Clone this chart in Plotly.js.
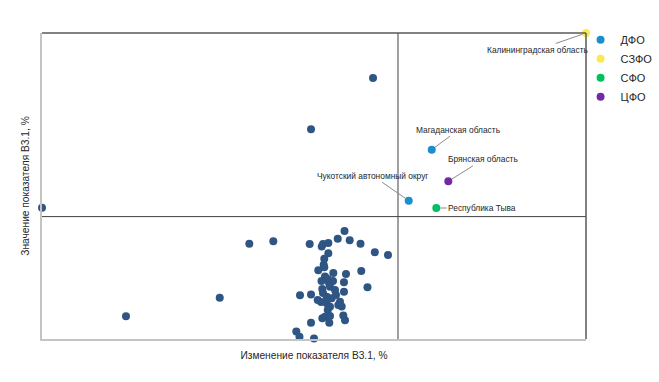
<!DOCTYPE html>
<html>
<head>
<meta charset="utf-8">
<script src="https://cdn.plot.ly/plotly-3.0.1.min.js"></script>
<style>html,body{margin:0;padding:0;background:#fff;}#chart{width:659px;height:382px;}</style>
</head>
<body>
<div id="chart"></div>
<script>
// Other regions (no district highlight)
const otherX = [49.45, 0.0, 60.85, 38.11, 42.52, 32.67, 15.44, 47.43, 49.45, 49.45,
  46.75, 47.33, 50.0, 49.21, 51.42, 51.65, 52.63, 54.36, 55.61, 56.56,
  58.55, 61.18, 63.60, 52.63, 51.89, 51.78, 51.89, 50.79, 53.55, 55.88,
  58.69, 52.02, 52.52, 51.38, 55.51, 59.83, 51.53, 52.94, 53.86, 55.51,
  50.68, 51.29, 52.33, 53.25, 52.33, 52.94, 54.47, 55.09, 54.78, 52.52,
  52.02, 51.53, 52.94, 52.81, 55.39, 55.70, 52.76, 53.49, 54.04, 51.65];
const otherY = [68.53, 42.91, 85.29, 31.14, 31.93, 13.50, 7.42, 14.28, 14.54, 5.33,
  2.45, 0.75, 0.16, 31.05, 30.23, 31.05, 31.37, 32.78, 35.29, 32.25,
  31.14, 28.33, 27.45, 28.01, 26.24, 24.28, 23.43, 22.45, 21.57, 21.24,
  22.22, 20.42, 19.61, 18.95, 18.53, 16.90, 16.34, 17.09, 16.01, 15.46,
  12.75, 12.09, 13.82, 13.30, 11.67, 10.56, 11.11, 10.62, 12.19, 9.48,
  7.29, 6.76, 7.52, 5.33, 7.68, 6.11, 18.30, 18.95, 14.38, 15.03];

// Highlighted regions by federal district
const districts = ["ДФО", "СЗФО", "СФО", "ЦФО"];
const districtColors = ["#1b8fcc", "#fce94f", "#00c060", "#7328a6"];
const dfoNames = ["Магаданская область", "Чукотский автономный округ"];
const dfoX = [71.64, 67.41];
const dfoY = [61.86, 45.20];
const szfoNames = ["Калининградская область"];
const szfoX = [100.0];
const szfoY = [100.0];
const sfoNames = ["Республика Тыва"];
const sfoX = [72.48];
const sfoY = [42.81];
const cfoNames = ["Брянская область"];
const cfoX = [74.69];
const cfoY = [51.54];

// Quadrant split values
const splitX = 65.44;
const splitY = 40.0;

const xTitle = "Изменение показателя В3.1, %";
const yTitle = "Значение показателя В3.1, %";

const markerSize = 8;
const traces = [
  {x: otherX, y: otherY, type: "scatter", mode: "markers", showlegend: false, cliponaxis: false,
   marker: {color: "#2f5584", size: markerSize}, hoverinfo: "x+y"},
  {x: dfoX, y: dfoY, text: dfoNames, name: districts[0], type: "scatter", mode: "markers", cliponaxis: false,
   marker: {color: districtColors[0], size: markerSize}},
  {x: szfoX, y: szfoY, text: szfoNames, name: districts[1], type: "scatter", mode: "markers", cliponaxis: false,
   marker: {color: districtColors[1], size: markerSize}},
  {x: sfoX, y: sfoY, text: sfoNames, name: districts[2], type: "scatter", mode: "markers", cliponaxis: false,
   marker: {color: districtColors[2], size: markerSize}},
  {x: cfoX, y: cfoY, text: cfoNames, name: districts[3], type: "scatter", mode: "markers", cliponaxis: false,
   marker: {color: districtColors[3], size: markerSize}}
];

// label offsets (pixels) for annotated regions
const labelOffsets = {
  "Калининградская область": [-49, 17],
  "Магаданская область": [27, -20],
  "Брянская область": [35, -22],
  "Чукотский автономный округ": [-36, -25],
  "Республика Тыва": [46, 0]
};
const annotations = [];
[[dfoNames, dfoX, dfoY], [szfoNames, szfoX, szfoY], [sfoNames, sfoX, sfoY], [cfoNames, cfoX, cfoY]].forEach(g => {
  g[0].forEach((n, i) => {
    const off = labelOffsets[n];
    annotations.push({
      x: g[1][i], y: g[2][i], xref: "x", yref: "y", text: n,
      showarrow: true, arrowhead: 0, arrowwidth: 1, arrowcolor: "#8c8c8c",
      ax: off[0], ay: off[1], standoff: 4,
      font: {size: 8.4, color: "#262626", family: "Liberation Sans, Arial, sans-serif"}
    });
  });
});

const layout = {
  width: 659, height: 382,
  margin: {l: 42, r: 73, t: 33, b: 43, pad: 0, autoexpand: false},
  paper_bgcolor: "#ffffff", plot_bgcolor: "#ffffff",
  font: {family: "Liberation Sans, Arial, sans-serif", color: "#262626"},
  showlegend: true,
  legend: {x: 0.99, y: 1.025, xanchor: "left", yanchor: "top", font: {size: 11, color: "#262626"},
    bgcolor: "rgba(0,0,0,0)", itemwidth: 30, tracegroupgap: 0},
  xaxis: {range: [0, 100], showticklabels: false, ticks: "", showgrid: false, zeroline: false,
    showline: true, linecolor: "#c4c4c4", linewidth: 2,
    title: {text: xTitle, font: {size: 10.2, color: "#262626"}, standoff: 12}},
  yaxis: {range: [0, 100], showticklabels: false, ticks: "", showgrid: false, zeroline: false,
    showline: true, linecolor: "#c4c4c4", linewidth: 2,
    title: {text: yTitle, font: {size: 10.2, color: "#262626"}, standoff: 8}},
  shapes: [
    {type: "line", xref: "paper", yref: "paper", x0: 0, x1: 1, y0: 1, y1: 1, line: {color: "#595959", width: 1.5}},
    {type: "line", xref: "paper", yref: "paper", x0: 1, x1: 1, y0: 0, y1: 1, line: {color: "#595959", width: 1.5}},
    {type: "line", xref: "x", yref: "paper", x0: splitX, x1: splitX, y0: 0, y1: 1, line: {color: "#404040", width: 1}, layer: "below"},
    {type: "line", xref: "paper", yref: "y", x0: 0, x1: 1, y0: splitY, y1: splitY, line: {color: "#404040", width: 1}, layer: "below"}
  ],
  annotations: annotations
};

Plotly.newPlot("chart", traces, layout, {displayModeBar: false, staticPlot: true});
</script>
</body>
</html>
